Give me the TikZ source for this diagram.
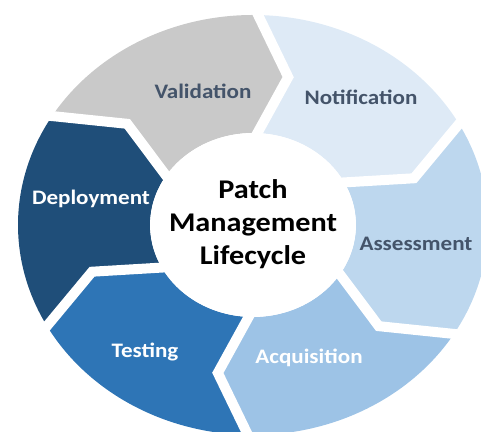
\documentclass[tikz,border=0pt]{standalone}
\usepackage{fontspec}
\setmainfont{Carlito}
\definecolor{validgray}{RGB}{201,201,201}
\definecolor{notifblue}{RGB}{222,234,246}
\definecolor{assessblue}{RGB}{189,215,238}
\definecolor{acqblue}{RGB}{157,195,230}
\definecolor{testblue}{RGB}{46,117,182}
\definecolor{deployblue}{RGB}{31,78,121}
\definecolor{slatetext}{RGB}{68,84,106}
\tikzset{
  ringgap/.style={draw=white, line width=5pt, line join=miter},
  phase/.style={font=\bfseries\fontsize{10.3}{12}\selectfont, anchor=base,
    xscale=1.12, transform shape},
}

\begin{document}
\begin{tikzpicture}[x=0.5pt,y=0.5pt]
    \useasboundingbox (0,0) rectangle (481,432);

    \begin{scope}[shift={(253,207)}, xscale=235, yscale=210]
        \foreach \a/\col in {150/validgray, 90/notifblue, 30/assessblue,
                             -30/acqblue, -90/testblue, -150/deployblue}
            \fill[\col] (\a:1) arc[start angle=\a, end angle=\a-60, radius=1]
                -- ({\a-72}:0.72) -- ({\a-60}:0.438)
                arc[start angle=\a-60, end angle=\a, radius=0.438]
                -- ({\a-12}:0.72) -- cycle;
        \foreach \a in {90,30,-30,-90,-150,150}
            \draw[ringgap] (\a:1.05) -- ({\a-12}:0.72) -- (\a:0.40);
        \fill[white] (0,0) circle[radius=0.438];
    \end{scope}

    \node[font=\bfseries\fontsize{13.5}{16.5}\selectfont, align=center,
          xscale=1.12, transform shape] (hub) at (253,208)
        {Patch\\Management\\Lifecycle};

    \node[phase, text=slatetext] (validation) at (203,333) {Validation};
    \node[phase, text=slatetext] (notification) at (361,327) {Notification};
    \node[phase, text=slatetext] (assessment) at (416,181) {Assessment};
    \node[phase, text=white] (acquisition) at (309,68) {Acquisition};
    \node[phase, text=white] (testing) at (145,74) {Testing};
    \node[phase, text=white] (deployment) at (91,227) {Deployment};
\end{tikzpicture}
\end{document}
